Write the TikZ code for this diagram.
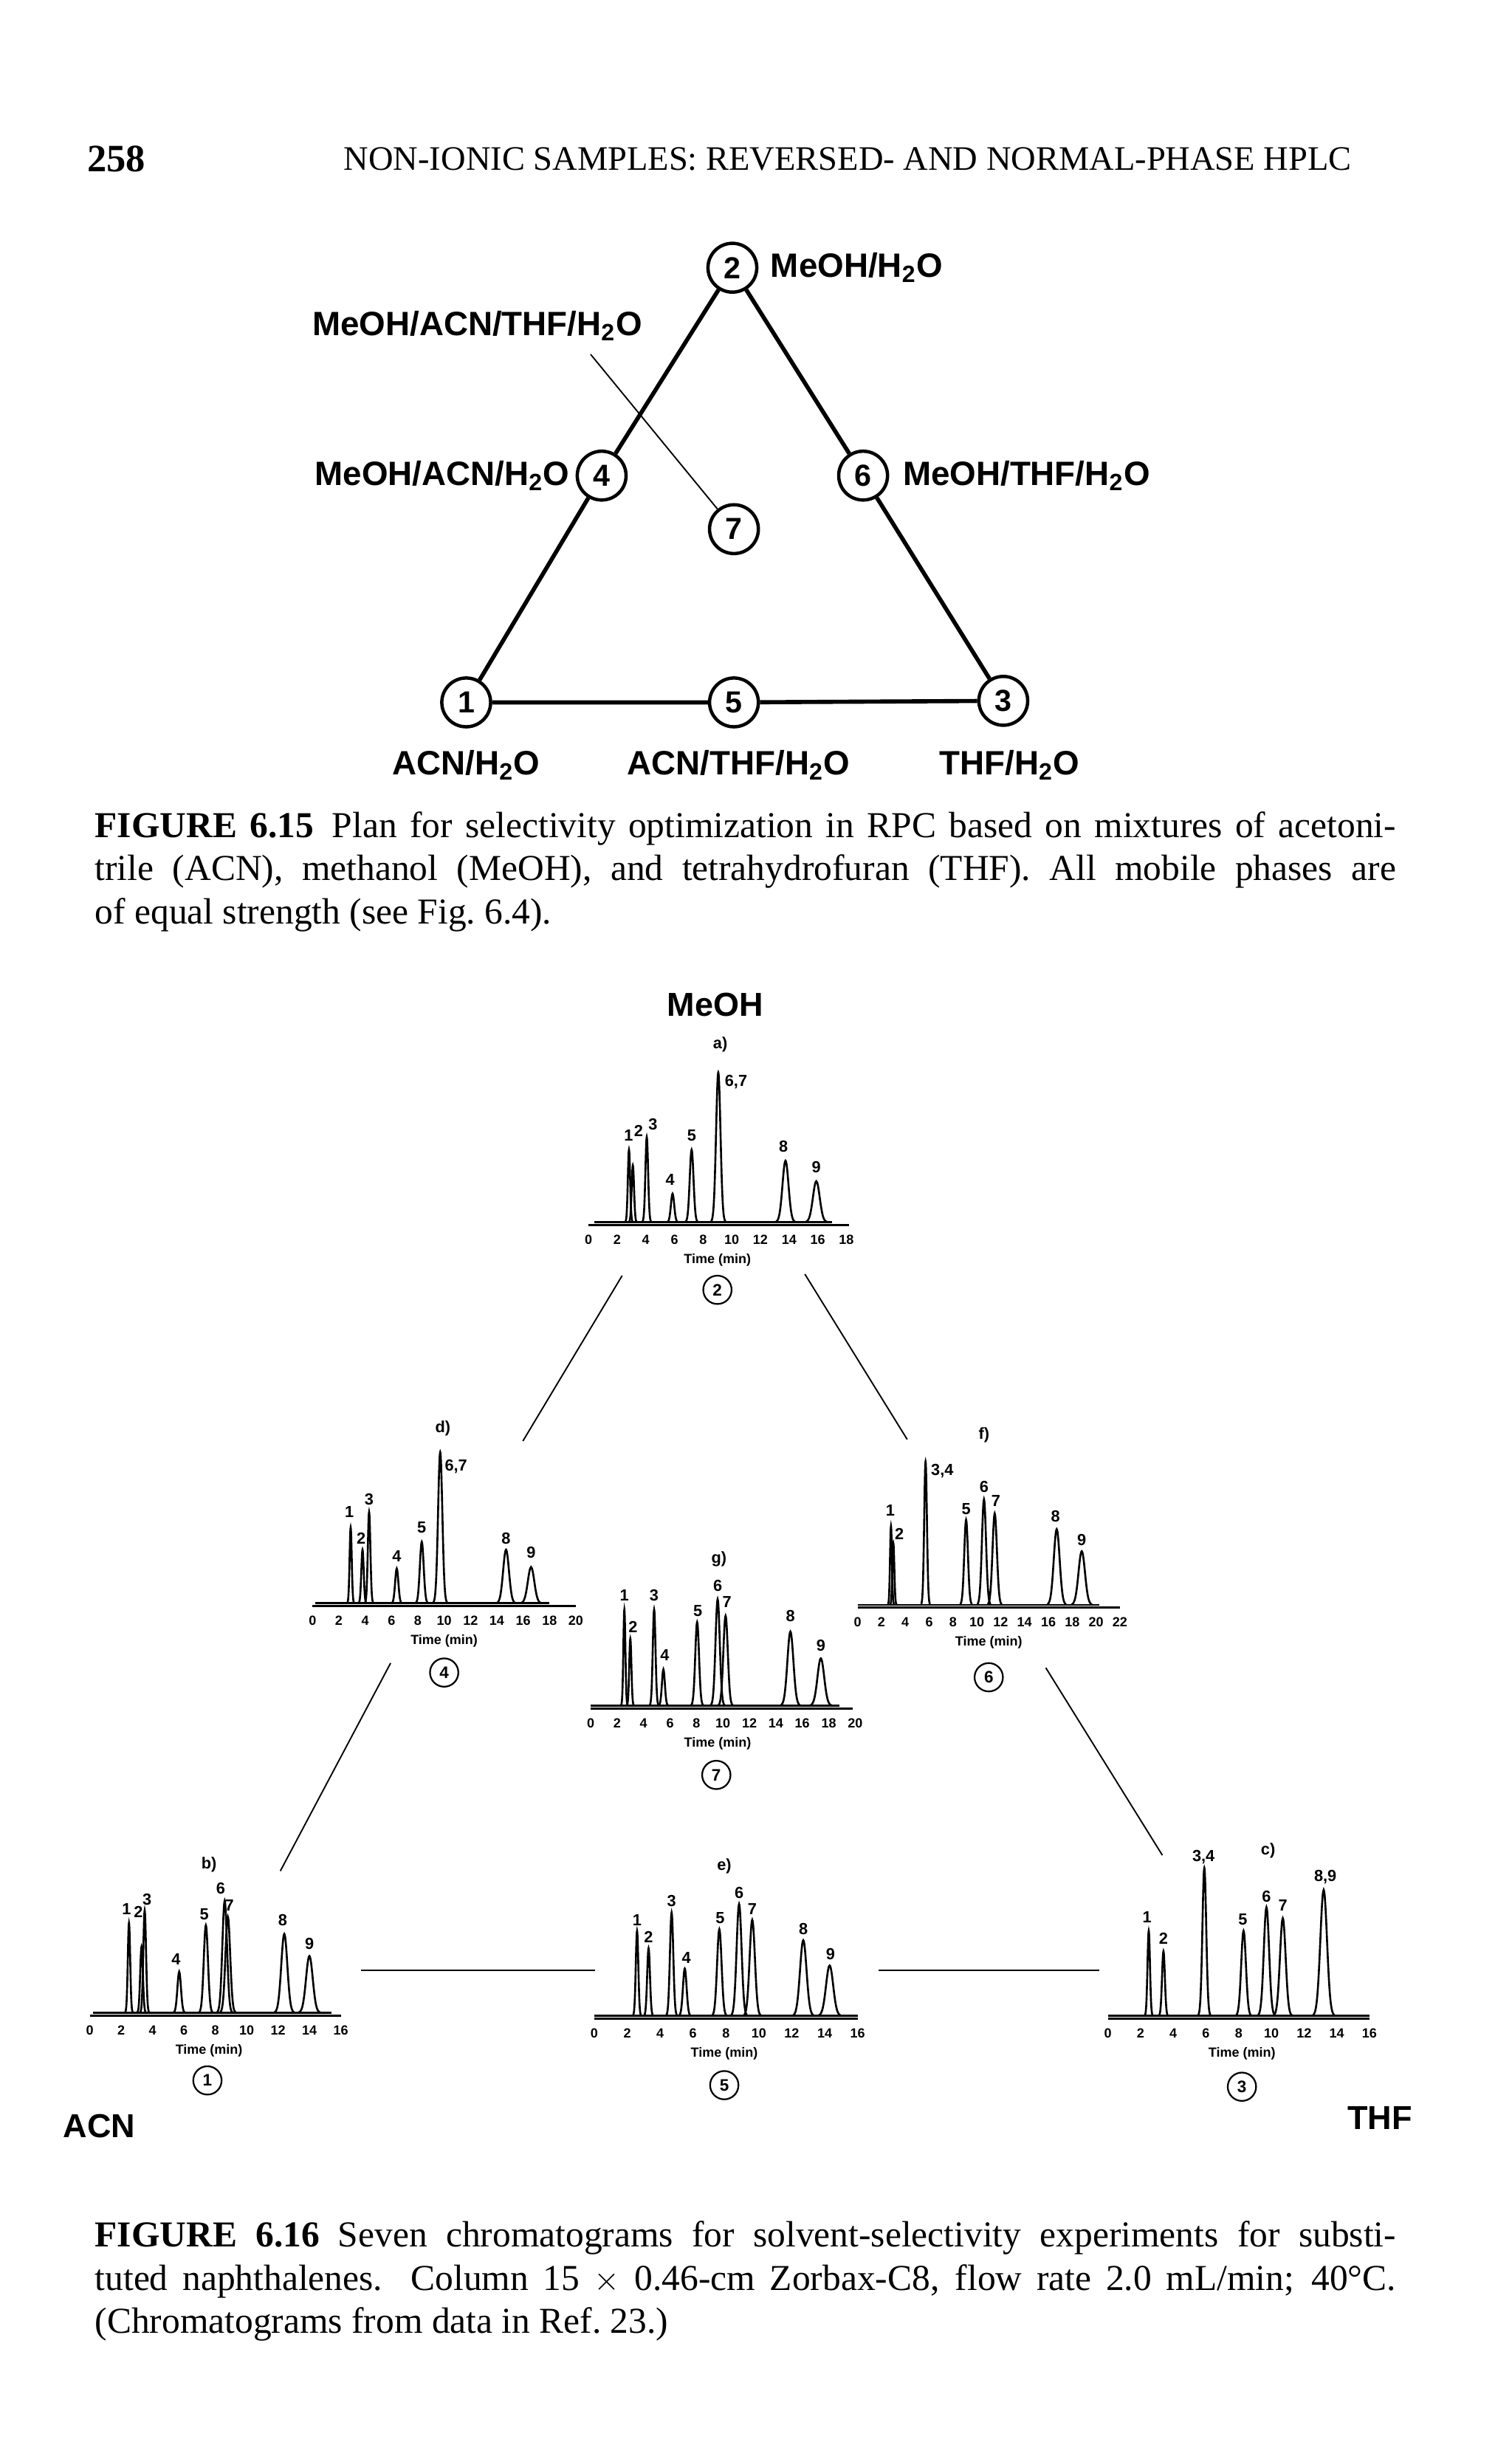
\documentclass[tikz,border=0pt]{standalone}
\usepackage{fontspec}
\setmainfont{Liberation Serif}
\newfontfamily\hsans{Liberation Sans}
\usetikzlibrary{positioning}
\newcommand\wat{H\textsubscript{2}O}
% one peak: retention time, height
\newcommand\pk[2]{\pgfmathsetmacro\sg{0.045+0.012*#1}%
  \draw[peak] plot[domain=#1-3.2*\sg:#1+3.2*\sg,samples=25,smooth] (\x,{#2*exp(-0.5*((\x-#1)/\sg)^2)});}
\newcommand\lb[3]{\node[plab] at (#1,#2) {#3};}
\begin{document}
\begin{tikzpicture}[x=0.2mm,y=-0.2mm]
    \tikzset{peak/.style={line width=0.7pt},
      plab/.style={font=\hsans\bfseries\fontsize{5.8}{6}\selectfont,inner sep=0},
      tick/.style={font=\hsans\bfseries\fontsize{4.8}{5}\selectfont,inner sep=0},
      numc/.style={circle,draw,line width=0.6pt,inner sep=0,minimum size=3.6mm,font=\hsans\bfseries\fontsize{6}{7}\selectfont},
      bignum/.style={circle,draw,line width=1.2pt,inner sep=0,minimum size=6.2mm,font=\hsans\bfseries\fontsize{11}{12}\selectfont},
      mix/.style={font=\hsans\bfseries\fontsize{12.2}{13}\selectfont,inner sep=0},
      corner/.style={font=\hsans\bfseries\fontsize{12}{13}\selectfont,inner sep=0},
      side/.style={line width=1.5pt},
      link/.style={line width=0.5pt},
      chrom/.style 2 args={shift={(#1)},xscale=#2,yscale=-1}}
    \useasboundingbox (0,0) rectangle (960,1552.5);
    % page header
    \node[anchor=west,inner sep=0,font=\bfseries\fontsize{14}{16}\selectfont] at (55,101) {258};
    \node[anchor=west,inner sep=0,font=\fontsize{12.4}{14}\selectfont] at (218,101) {NON-IONIC SAMPLES: REVERSED- AND NORMAL-PHASE HPLC};
    % triangle plan
    \node[bignum] (t2) at (465,170) {2};
    \node[bignum] (t4) at (382,302) {4};
    \node[bignum] (t6) at (548,302) {6};
    \node[bignum] (t7) at (466,336) {7};
    \node[bignum] (t1) at (296,446) {1};
    \node[bignum] (t5) at (466,446) {5};
    \node[bignum] (t3) at (637,445) {3};
    \draw[side] (t2) -- (t4) -- (t1) -- (t5) -- (t3) -- (t6) -- (t2);
    \node[mix,anchor=west] at (489,170) {MeOH/\wat};
    \node[mix,anchor=west] (m7) at (198,207) {MeOH/ACN/THF/\wat};
    \coordinate (m7end) at (375,225);
    \draw[link] (m7end) -- (t7);
    \node[mix,anchor=east] at (362,302) {MeOH/ACN/\wat};
    \node[mix,anchor=west] at (573,302) {MeOH/THF/\wat};
    \node[mix] at (296,486) {ACN/\wat};
    \node[mix] at (469,486) {ACN/THF/\wat};
    \node[mix] at (641,486) {THF/\wat};
    % caption 6.15
    \node[anchor=north west,inner sep=0,text width=165.2mm,align=justify,font=\fontsize{13.2}{15.65}\selectfont] at (60,515)
      {\textbf{FIGURE 6.15}\enspace Plan for selectivity optimization in RPC based on mixtures of acetoni-\linebreak trile (ACN), methanol (MeOH), and tetrahydrofuran (THF). All mobile phases are\linebreak of equal strength (see Fig.~6.4).};
    % chromatograms
    \node[corner] at (454,638) {MeOH};
    \node[corner] at (63,1350) {ACN};
    \node[corner] at (876,1345) {THF};
    % a) MeOH
    \begin{scope}[chrom={373.6,776}{9.1}]
      \draw[peak] (0.4,0) -- (17,0);
      \draw[peak] (0,-1.8) -- (18.2,-1.8);
      \pk{2.83}{46}\pk{3.1}{36}\pk{4.07}{54}\pk{5.87}{18}\pk{7.2}{46}\pk{9.06}{95}\pk{13.75}{39}\pk{15.9}{26}
      \lb{2.8}{55}{1}\lb{3.5}{58}{2}\lb{4.5}{62}{3}\lb{5.7}{27}{4}\lb{7.2}{55}{5}\lb{10.3}{89}{6,7}\lb{13.6}{48}{8}\lb{15.9}{35}{9}
      \foreach \t in {0,2,...,18} \node[tick] at (\t,-11) {\t};
      \node[tick] at (9,-24) {Time (min)};
      \node[numc] (c2) at (9,-43) {2};
      \node[plab] at (9.2,113) {a)};
    \end{scope}
    % d) MeOH/ACN
    \begin{scope}[chrom={198.4,1018}{8.36}]
      \draw[peak] (0.2,0) -- (18,0);
      \draw[peak] (0,-1.8) -- (20,-1.8);
      \pk{2.9}{48}\pk{3.8}{34}\pk{4.3}{58}\pk{6.4}{22}\pk{8.3}{39}\pk{9.7}{96}\pk{14.7}{34}\pk{16.6}{23}
      \lb{2.8}{58}{1}\lb{3.7}{41}{2}\lb{4.3}{66}{3}\lb{6.4}{30}{4}\lb{8.3}{48}{5}\lb{10.9}{87}{6,7}\lb{14.7}{41}{8}\lb{16.6}{32}{9}
      \foreach \t in {0,2,...,20} \node[tick] at (\t,-11) {\t};
      \node[tick] at (10,-24) {Time (min)};
      \node[numc] (c4) at (10,-44) {4};
      \node[plab] at (9.9,111) {d)};
    \end{scope}
    % f) MeOH/THF
    \begin{scope}[chrom={544.5,1019}{7.57}]
      \draw[peak] (0,0) -- (20.3,0);
      \draw[peak] (0,-1.8) -- (22,-1.8);
      \pk{2.8}{50}\pk{3.0}{39}\pk{5.7}{91}\pk{9.1}{54}\pk{10.6}{67}\pk{11.5}{58}\pk{16.7}{48}\pk{18.8}{34}
      \lb{2.75}{60}{1}\lb{3.5}{45}{2}\lb{7.1}{85}{3,4}\lb{9.1}{61}{5}\lb{10.6}{75}{6}\lb{11.6}{66}{7}\lb{16.6}{56}{8}\lb{18.8}{41}{9}
      \foreach \t in {0,2,...,22} \node[tick] at (\t,-11) {\t};
      \node[tick] at (11,-24) {Time (min)};
      \node[numc] (c6) at (11,-46) {6};
      \node[plab] at (10.6,108) {f)};
    \end{scope}
    % g) all four
    \begin{scope}[chrom={375,1083}{8.4}]
      \draw[peak] (0,0) -- (18.8,0);
      \draw[peak] (0,-1.8) -- (19.8,-1.8);
      \pk{2.55}{61}\pk{3.0}{42.5}\pk{4.8}{61}\pk{5.5}{23}\pk{8.05}{53}\pk{9.6}{67.5}\pk{10.2}{57}\pk{15.1}{47}\pk{17.4}{30}
      \lb{2.55}{70}{1}\lb{3.2}{50}{2}\lb{4.8}{70}{3}\lb{5.6}{32}{4}\lb{8.1}{60}{5}\lb{9.6}{76}{6}\lb{10.3}{66}{7}\lb{15.1}{57}{8}\lb{17.4}{38}{9}
      \foreach \t in {0,2,...,20} \node[tick] at (\t,-11) {\t};
      \node[tick] at (9.6,-24) {Time (min)};
      \node[numc] (c7) at (9.5,-44) {7};
      \node[plab] at (9.7,93) {g)};
    \end{scope}
    % b) ACN
    \begin{scope}[chrom={57,1278}{9.96}]
      \draw[peak] (0.2,0) -- (15.4,0);
      \draw[peak] (0,-1.8) -- (16,-1.8);
      \pk{2.5}{57}\pk{3.3}{42}\pk{3.5}{65}\pk{5.7}{26}\pk{7.4}{55.5}\pk{8.6}{71}\pk{8.8}{61}\pk{12.4}{50}\pk{14.0}{36}
      \lb{2.35}{66}{1}\lb{3.1}{64}{2}\lb{3.65}{72}{3}\lb{5.5}{34}{4}\lb{7.3}{62.5}{5}\lb{8.35}{79}{6}\lb{8.9}{68}{7}\lb{12.3}{59}{8}\lb{14}{44}{9}
      \foreach \t in {0,2,...,16} \node[tick] at (\t,-11) {\t};
      \node[tick] at (7.6,-24) {Time (min)};
      \node[numc] (c1) at (7.5,-43) {1};
      \node[plab] at (7.6,94) {b)};
    \end{scope}
    % e) ACN/THF
    \begin{scope}[chrom={377.3,1280}{10.45}]
      \draw[peak] (0,0) -- (16,0);
      \draw[peak] (0,-1.8) -- (16,-1.8);
      \pk{2.6}{54}\pk{3.3}{43}\pk{4.7}{65.6}\pk{5.5}{30}\pk{7.6}{55}\pk{8.8}{71}\pk{9.6}{61}\pk{12.7}{48}\pk{14.3}{32}
      \lb{2.6}{61}{1}\lb{3.3}{50}{2}\lb{4.7}{73}{3}\lb{5.6}{37}{4}\lb{7.65}{62}{5}\lb{8.8}{78}{6}\lb{9.6}{68}{7}\lb{12.7}{55}{8}\lb{14.35}{39}{9}
      \foreach \t in {0,2,...,16} \node[tick] at (\t,-11) {\t};
      \node[tick] at (7.9,-24) {Time (min)};
      \node[numc] (c5) at (7.9,-44) {5};
      \node[plab] at (7.9,95) {e)};
    \end{scope}
    % c) THF
    \begin{scope}[chrom={703.4,1280}{10.38}]
      \draw[peak] (0,0) -- (16,0);
      \draw[peak] (0,-1.8) -- (16,-1.8);
      \pk{2.5}{54}\pk{3.4}{41}\pk{5.9}{94}\pk{8.3}{54}\pk{9.7}{69}\pk{10.7}{62}\pk{13.2}{80}
      \lb{2.4}{62.5}{1}\lb{3.4}{49}{2}\lb{5.85}{101}{3,4}\lb{8.25}{61}{5}\lb{9.7}{76}{6}\lb{10.7}{70}{7}\lb{13.3}{88}{8,9}
      \foreach \t in {0,2,...,16} \node[tick] at (\t,-11) {\t};
      \node[tick] at (8.2,-24) {Time (min)};
      \node[numc] (c3) at (8.2,-45) {3};
      \node[plab] at (9.8,105) {c)};
    \end{scope}
    % connectors between chromatograms
    \coordinate (ad) at (395,810); \coordinate (da) at (332,915);
    \coordinate (af) at (511,809); \coordinate (fa) at (576,914);
    \coordinate (db) at (248,1056); \coordinate (bd) at (178,1188);
    \coordinate (fc) at (664,1059); \coordinate (cf) at (738,1178);
    \coordinate (be) at (229,1251); \coordinate (eb) at (378,1251);
    \coordinate (ec) at (558,1251); \coordinate (ce) at (698,1251);
    \draw[link] (ad) -- (da);
    \draw[link] (af) -- (fa);
    \draw[link] (db) -- (bd);
    \draw[link] (fc) -- (cf);
    \draw[link] (be) -- (eb);
    \draw[link] (ec) -- (ce);
    % caption 6.16
    \node[anchor=north west,inner sep=0,text width=165.2mm,align=justify,font=\fontsize{13.2}{15.65}\selectfont] at (60,1410)
      {\textbf{FIGURE 6.16}\enspace Seven chromatograms for solvent-selectivity experiments for substi-\linebreak tuted naphthalenes. Column 15 $\times$ 0.46-cm Zorbax-C8, flow rate 2.0 mL/min; 40\textdegree C.\linebreak (Chromatograms from data in Ref.~23.)};
\end{tikzpicture}
\end{document}
